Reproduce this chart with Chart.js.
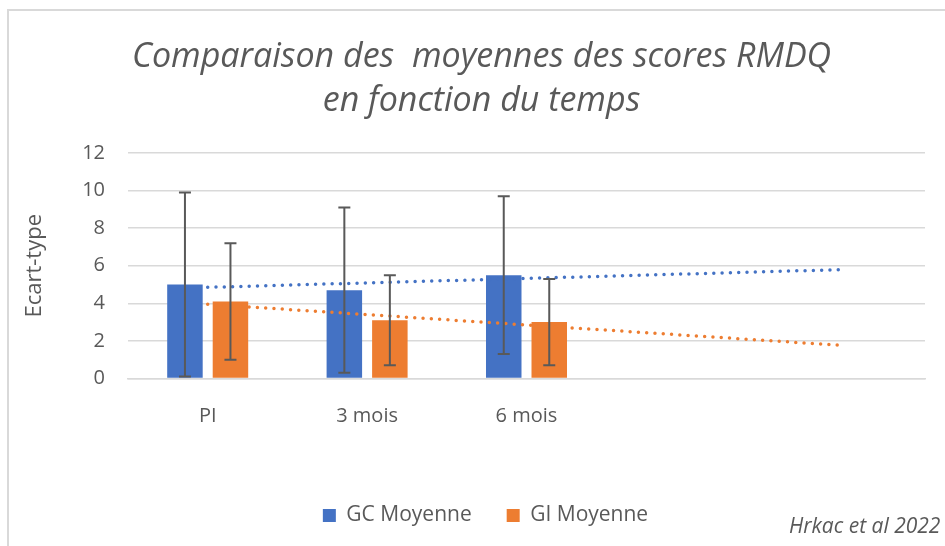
<!DOCTYPE html>
<html>
<head>
<meta charset="utf-8">
<script src="https://cdn.jsdelivr.net/npm/chart.js@4.4.0/dist/chart.umd.min.js"></script>
<style>
  body { margin: 0; background: #fff; }
</style>
</head>
<body>
<canvas id="rmdqChart" width="945" height="546"></canvas>
<script>
const categories = ['PI', '3 mois', '6 mois', '', ''];
const gcMoyenne = [5.0, 4.7, 5.5];
const giMoyenne = [4.1, 3.1, 3.0];
const gcEcart = [4.9, 4.4, 4.2];
const giEcart = [3.1, 2.4, 2.3];
// trendline ends (first and last category)
const gcTendance = [4.85, null, null, null, 5.8];
const giTendance = [3.95, null, null, null, 1.75];
const yTicks = [0, 2, 4, 6, 8, 10, 12];

const grey = '#595959';
const gridGrey = '#d9d9d9';
const blue = '#4472C4';
const orange = '#ED7D31';

Chart.defaults.font.family = "'Open Sans', sans-serif";
Chart.defaults.color = grey;

// error bars (moyenne +/- ecart-type)
const errorBars = {
  id: 'errorBars',
  afterDatasetsDraw(chart) {
    const ctx = chart.ctx;
    const y = chart.scales.y;
    [gcEcart, giEcart].forEach((sd, di) => {
      const values = chart.data.datasets[di].data;
      chart.getDatasetMeta(di).data.forEach((bar, i) => {
        const top = y.getPixelForValue(values[i] + sd[i]);
        const bottom = y.getPixelForValue(values[i] - sd[i]);
        ctx.save();
        ctx.strokeStyle = grey;
        ctx.lineWidth = 2;
        ctx.beginPath();
        ctx.moveTo(bar.x, top);
        ctx.lineTo(bar.x, bottom);
        ctx.moveTo(bar.x - 6, top);
        ctx.lineTo(bar.x + 6, top);
        ctx.moveTo(bar.x - 6, bottom);
        ctx.lineTo(bar.x + 6, bottom);
        ctx.stroke();
        ctx.restore();
      });
    });
  }
};

// white background, light frame and source note
const frame = {
  id: 'frame',
  beforeDraw(chart) {
    const ctx = chart.ctx;
    ctx.save();
    ctx.fillStyle = '#fff';
    ctx.fillRect(0, 0, chart.width, chart.height);
    ctx.strokeStyle = gridGrey;
    ctx.lineWidth = 2;
    ctx.strokeRect(8, 10, 2000, 2000);
    ctx.restore();
  },
  afterDraw(chart) {
    const ctx = chart.ctx;
    ctx.save();
    ctx.font = "italic 21px 'Open Sans', sans-serif";
    ctx.fillStyle = grey;
    ctx.textBaseline = 'alphabetic';
    ctx.fillText('Hrkac et al 2022', 789, 533);
    ctx.restore();
  }
};

// title and legend sit a bit right of the centre in the original
const boxShift = {
  id: 'boxShift',
  afterLayout(chart) {
    chart.legend.left += 18;
    chart.legend.right += 18;
    chart.titleBlock.left += 14;
    chart.titleBlock.right += 14;
  }
};

const ctx = document.getElementById('rmdqChart').getContext('2d');
const rmdqChart = new Chart(ctx, {
  data: {
    labels: categories,
    datasets: [
      {
        type: 'bar',
        label: 'GC Moyenne',
        data: gcMoyenne,
        backgroundColor: blue,
        categoryPercentage: 0.571,
        barPercentage: 0.78,
        order: 2
      },
      {
        type: 'bar',
        label: 'GI Moyenne',
        data: giMoyenne,
        backgroundColor: orange,
        categoryPercentage: 0.571,
        barPercentage: 0.78,
        order: 2
      },
      {
        type: 'line',
        label: 'Linéaire (GC Moyenne)',
        data: gcTendance,
        borderColor: blue,
        borderWidth: 3.5,
        borderDash: [0, 8.3],
        borderCapStyle: 'round',
        pointRadius: 0,
        spanGaps: true,
        order: 1
      },
      {
        type: 'line',
        label: 'Linéaire (GI Moyenne)',
        data: giTendance,
        borderColor: orange,
        borderWidth: 3.5,
        borderDash: [0, 8.3],
        borderCapStyle: 'round',
        pointRadius: 0,
        spanGaps: true,
        order: 1
      }
    ]
  },
  options: {
    responsive: false,
    animation: false,
    layout: { padding: { left: 10, right: 20, top: 10, bottom: 10 } },
    plugins: {
      title: {
        display: true,
        text: ['Comparaison des  moyennes des scores RMDQ', 'en fonction du temps'],
        color: grey,
        font: { size: 34, style: 'italic', weight: 'normal', lineHeight: 1.294 },
        padding: { top: 25, bottom: 30 }
      },
      legend: {
        position: 'bottom',
        labels: {
          boxWidth: 13,
          boxHeight: 13,
          padding: 35,
          font: { size: 21 },
          color: grey,
          filter: item => item.datasetIndex < 2
        }
      },
      tooltip: { enabled: false }
    },
    scales: {
      x: {
        grid: { display: false },
        border: { display: true, color: gridGrey, width: 1.5 },
        ticks: { padding: 18, font: { size: 20 }, color: grey },
        afterFit: s => { s.height = 91.5; }
      },
      y: {
        min: 0,
        max: 12,
        afterBuildTicks: s => { s.ticks = yTicks.map(v => ({ value: v })); },
        grid: { color: gridGrey, lineWidth: 1.5, drawTicks: false },
        border: { display: false },
        ticks: { padding: 23, font: { size: 20 }, color: grey },
        title: {
          display: true,
          text: 'Ecart-type',
          color: grey,
          font: { size: 22 },
          padding: { top: 12 }
        },
        afterFit: s => { s.width = 118; }
      }
    }
  },
  plugins: [errorBars, frame, boxShift]
});
</script>
</body>
</html>
